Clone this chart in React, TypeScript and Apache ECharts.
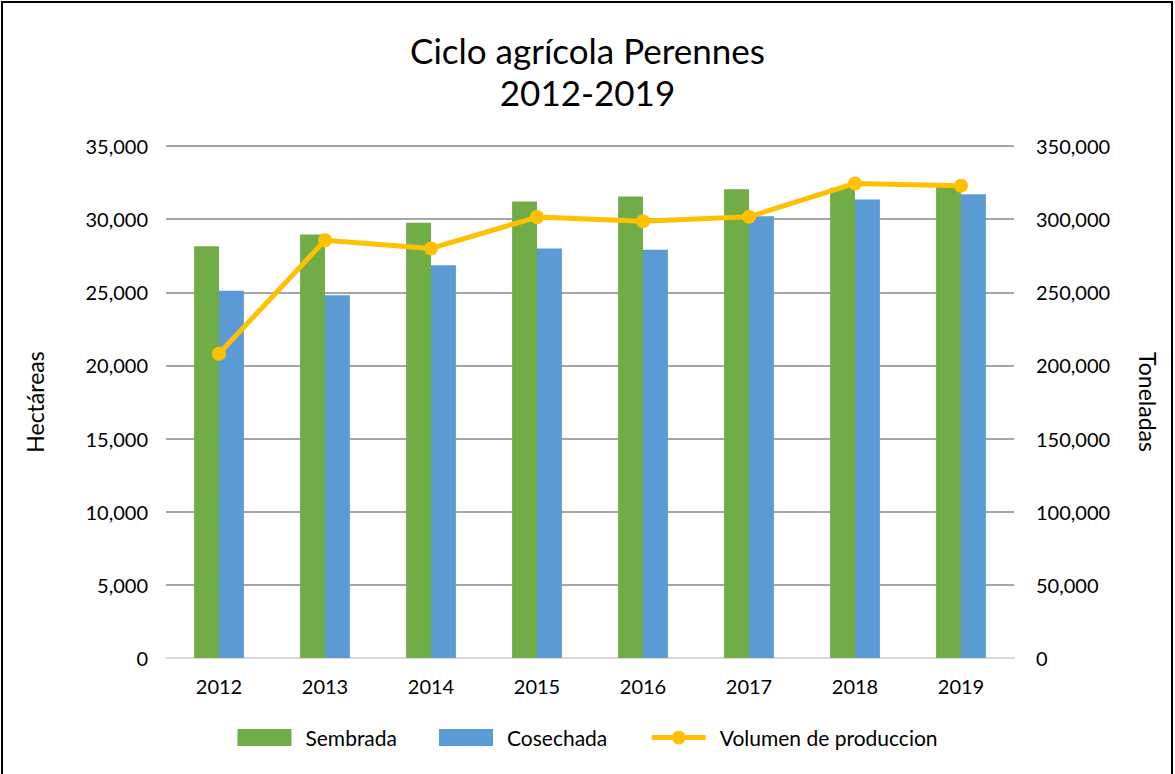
import React, { useEffect, useRef } from "react";
import * as echarts from "echarts";

const years = ["2012", "2013", "2014", "2015", "2016", "2017", "2018", "2019"];
const sembrada = [28150, 28950, 29750, 31200, 31550, 32050, 32150, 32200];
const cosechada = [25100, 24800, 26850, 28000, 27900, 30200, 31350, 31700];
const volumen = [208000, 285500, 280000, 301400, 298600, 301600, 324400, 322800];

const FONT = "Lato, 'Noto Sans', sans-serif";
const fmt = (v: number) => v.toLocaleString("en-US");

export default function App() {
  const ref = useRef<HTMLDivElement>(null);
  useEffect(() => {
    document.body.style.margin = "0";
    const chart = echarts.init(ref.current!, null, { renderer: "svg" });
    chart.setOption({
      animation: false,
      backgroundColor: "#fff",
      textStyle: { fontFamily: FONT },
      title: {
        text: "Ciclo agrícola Perennes\n2012-2019",
        left: "center",
        top: 24,
        textStyle: { fontFamily: FONT, fontSize: 35, fontWeight: "normal", color: "#000", lineHeight: 42 },
      },
      graphic: [
        {
          type: "rect",
          shape: { x: 2, y: 2, width: 1170, height: 790 },
          style: { fill: "none", stroke: "#000", lineWidth: 2 },
          silent: true,
        },
      ],
      legend: {
        bottom: 21,
        left: "center",
        itemWidth: 54,
        itemHeight: 17,
        itemGap: 42,
        textStyle: { fontFamily: FONT, fontSize: 21, color: "#000", padding: [0, 0, 0, 9] },
        data: [
          { name: "Sembrada", icon: "rect" },
          { name: "Cosechada", icon: "rect" },
          { name: "Volumen de produccion", lineStyle: { width: 5 } },
        ],
      },
      grid: { left: 166, right: 161, top: 146, bottom: 116 },
      xAxis: {
        type: "category",
        data: years,
        axisTick: { show: false },
        axisLine: { lineStyle: { color: "#d9d9d9", width: 2 } },
        axisLabel: { fontFamily: FONT, fontSize: 20, color: "#000", margin: 18 },
      },
      yAxis: [
        {
          type: "value",
          min: 0,
          max: 35000,
          interval: 5000,
          name: "Hectáreas",
          nameLocation: "middle",
          nameGap: 120,
          nameTextStyle: { fontFamily: FONT, fontSize: 23, color: "#000" },
          axisLabel: { fontFamily: FONT, fontSize: 20, color: "#000", margin: 18, formatter: fmt },
          splitLine: { lineStyle: { color: "#a6a6a6", width: 2 } },
          axisLine: { show: false },
          axisTick: { show: false },
        },
        {
          type: "value",
          min: 0,
          max: 350000,
          interval: 50000,
          name: "Toneladas",
          nameLocation: "middle",
          nameRotate: -90,
          nameGap: 122,
          nameTextStyle: { fontFamily: FONT, fontSize: 23, color: "#000" },
          axisLabel: { fontFamily: FONT, fontSize: 20, color: "#000", margin: 22, formatter: fmt },
          splitLine: { show: false },
          axisLine: { show: false },
          axisTick: { show: false },
        },
      ],
      series: [
        {
          name: "Sembrada",
          type: "bar",
          data: sembrada,
          itemStyle: { color: "#70AD47" },
          barGap: "0%",
          barCategoryGap: "53%",
        },
        {
          name: "Cosechada",
          type: "bar",
          data: cosechada,
          itemStyle: { color: "#5B9BD5" },
        },
        {
          name: "Volumen de produccion",
          type: "line",
          yAxisIndex: 1,
          data: volumen,
          symbol: "circle",
          symbolSize: 14,
          lineStyle: { color: "#FFC000", width: 5 },
          itemStyle: { color: "#FFC000" },
        },
      ],
    });
    return () => chart.dispose();
  }, []);
  return <div ref={ref} style={{ width: 1175, height: 774 }} />;
}
